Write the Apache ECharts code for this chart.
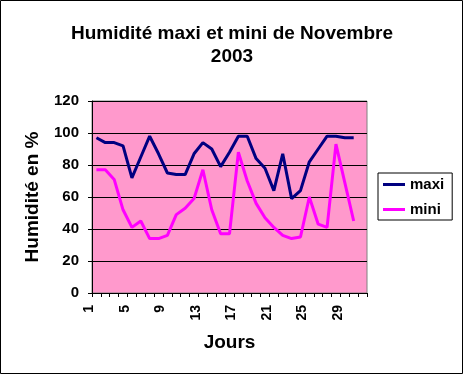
<!DOCTYPE html>
<html>
<head>
<meta charset="utf-8">
<script src="https://cdn.jsdelivr.net/npm/echarts@6/dist/echarts.min.js"></script>
<style>
html,body{margin:0;padding:0;background:#fff;}
#c{width:464px;height:375px;}
</style>
</head>
<body>
<div id="c"></div>
<script>
// Days of November 2003 (the 31st band is an empty slot as in the original sheet)
const days = ['1','2','3','4','5','6','7','8','9','10','11','12','13','14','15','16','17','18','19','20','21','22','23','24','25','26','27','28','29','30',''];
const maxi = [97,94,94,92,72,85,98,87,75,74,74,87,94,90,79,88,98,98,84,78,64,87,59,64,82,90,98,98,97,97];
const mini = [77,77,71,52,41,45,34,34,36,49,53,59,77,52,37,37,88,70,56,47,41,36,34,35,60,43,41,93,69,45];
const yTicks = [0,20,40,60,80,100,120];

const FONT = 'Liberation Sans, Arial, sans-serif';
const chart = echarts.init(document.getElementById('c'), null, {renderer:'canvas'});
chart.setOption({
  animation:false,
  backgroundColor:'#ffffff',
  title:{
    text:'Humidité maxi et mini de Novembre\n2003',
    left:'center', top:17,
    textStyle:{fontFamily:FONT, fontWeight:'bold', fontSize:19, lineHeight:23, color:'#000'}
  },
  legend:{
    orient:'vertical', left:378, top:173,
    padding:[4,8,3,5],
    itemGap:10, itemWidth:22, itemHeight:3, icon:'rect',
    backgroundColor:'#fff', borderColor:'#000', borderWidth:1, borderRadius:0,
    textStyle:{fontFamily:FONT, fontWeight:'bold', fontSize:15, color:'#000', lineHeight:15},
    data:['maxi','mini']
  },
  grid:{
    left:92, right:97, top:101, bottom:82,
    show:true, backgroundColor:'#FF99CC', borderColor:'#808080', borderWidth:1
  },
  xAxis:{
    type:'category', data:days, boundaryGap:true,
    name:'Jours', nameLocation:'middle', nameGap:40,
    nameTextStyle:{fontFamily:FONT, fontWeight:'bold', fontSize:19, color:'#000'},
    axisLine:{lineStyle:{color:'#000', width:1}},
    axisTick:{show:true, interval:0, length:4, lineStyle:{color:'#000'}},
    axisLabel:{interval:3, rotate:90, margin:12, verticalAlign:'bottom',
      fontFamily:FONT, fontWeight:'bold', fontSize:14, color:'#000'},
    splitLine:{show:false}
  },
  yAxis:{
    type:'value', min:yTicks[0], max:yTicks[yTicks.length-1], interval:20,
    name:'Humidité en %', nameLocation:'middle', nameGap:50, nameRotate:90,
    nameTextStyle:{fontFamily:FONT, fontWeight:'bold', fontSize:19, color:'#000'},
    axisLine:{show:true, lineStyle:{color:'#000', width:1}},
    axisTick:{show:true, length:4, lineStyle:{color:'#000'}},
    axisLabel:{margin:13, fontFamily:FONT, fontWeight:'bold', fontSize:15, color:'#000'},
    splitLine:{show:true, lineStyle:{color:'#000', width:1}}
  },
  series:[
    {name:'maxi', type:'line', data:maxi, showSymbol:false, symbol:'none',
     lineStyle:{color:'#000080', width:3}, itemStyle:{color:'#000080'}},
    {name:'mini', type:'line', data:mini, showSymbol:false, symbol:'none',
     lineStyle:{color:'#FF00FF', width:3}, itemStyle:{color:'#FF00FF'}}
  ],
  graphic:[{
    type:'rect', silent:true, z:100,
    shape:{x:0.5, y:0.5, width:462, height:373},
    style:{fill:null, stroke:'#000', lineWidth:1}
  }]
});
</script>
</body>
</html>
